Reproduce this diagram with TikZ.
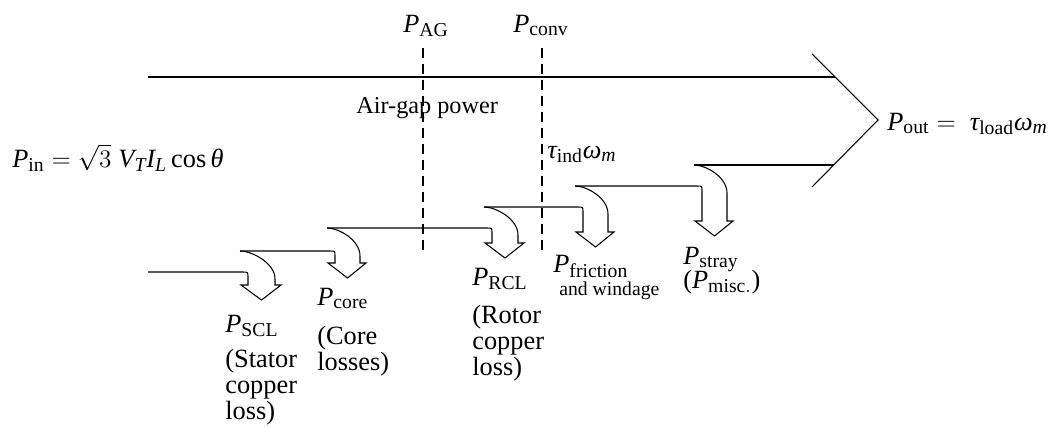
\documentclass[tikz,border=0pt]{standalone}
\usepackage{amsmath}
\usepackage{fontspec}
\setmainfont{Liberation Serif}
\DeclareMathSizes{15}{15}{11.2}{8}
\usetikzlibrary{positioning}

\begin{document}
\begin{tikzpicture}[x=0.02cm, y=-0.02cm,
    flow/.style={line width=0.6pt, line join=miter},
    cut/.style={line width=0.6pt, dash pattern=on 5.7pt off 3.4pt},
    lbl/.style={inner sep=0pt, anchor=base west, align=left,
                font=\fontsize{15}{14.8}\selectfont},
    sub/.style={lbl, font=\fontsize{11.2}{12}\selectfont}
  ]
  \useasboundingbox (0,0) rectangle (1050,427);
  % power flow: upper edge and output head
  \draw[flow] (148,77) -- (835,77);
  \draw[flow] (812,54) -- (878,120) -- (812,187);
  \draw[flow] (694,165) -- (834,165);
  % loss arrows, one per step of the lower edge
  \foreach \xa/\xl/\xr/\yl/\yu/\yw in {148/248/275/272/251/285, 240/335/360/251/228/263,
      327/492/518/228/207/243, 484/583/608/207/186/232, 575/702/727/186/165/221}
    \draw[flow] (\xa,\yl) -- (\xl-5,\yl) .. controls (\xl,\yl) .. (\xl,\yl+5)
      -- (\xl,\yw) -- (\xl-7,\yw) -- (\xl/2+\xr/2,\yw+15) -- (\xr+6,\yw) -- (\xr,\yw)
      -- (\xr,\yu+28) .. controls (\xr,\yu+12) and (\xl+4,\yu) .. (\xl-8,\yu);
  % air gap and conversion cuts
  \draw[cut] (423,48) -- (423,253);
  \draw[cut] (542,48) -- (542,253);
  \node[lbl] (pag) at (403,32) {$\textit{P}_{\mathrm{AG}}$};
  \node[lbl] (pconv) at (513,32) {$\textit{P}_{\mathrm{conv}}$};
  \node[lbl, font=\fontsize{13.8}{14}\selectfont] (agp) at (356,113) {Air-gap power};
  \node[lbl] (tind) at (547,158) {$\textit{τ}_{\mathrm{ind}}\textit{ω}_{\textit{m}}$};
  \node[lbl] (pin) at (12,167)
    {$\textit{P}_{\mathrm{in}} = \sqrt{3}\;\textit{V}_{\textit{T}}\textit{I}_{\textit{L}}\cos\textit{θ}$};
  \node[lbl] (pout) at (887,130)
    {$\textit{P}_{\mathrm{out}} = \;\textit{τ}_{\mathrm{load}}\textit{ω}_{\textit{m}}$};
  % losses (multi-line texts sit on their last line)
  \node[lbl] (pscl) at (225,332) {$\textit{P}_{\mathrm{SCL}}$};
  \node[lbl] (scltxt) at (225,419) {(Stator\\copper\\loss)};
  \node[lbl] (pcore) at (317,305) {$\textit{P}_{\mathrm{core}}$};
  \node[lbl] (coretxt) at (317,370) {(Core\\losses)};
  \node[lbl] (prcl) at (472,285) {$\textit{P}_{\mathrm{RCL}}$};
  \node[lbl] (rcltxt) at (472,375) {(Rotor\\copper\\loss)};
  \node[lbl] (pfw) at (553,272) {$\textit{P}_{\mathrm{friction}}$};
  \node[sub] (fwtxt) at (559,295) {and windage};
  \node[lbl] (pstray) at (683,264) {$\textit{P}_{\mathrm{stray}}$};
  \node[lbl] (pmisc) at (683,288) {($\textit{P}_{\mathrm{misc.}}$)};
\end{tikzpicture}
\end{document}
